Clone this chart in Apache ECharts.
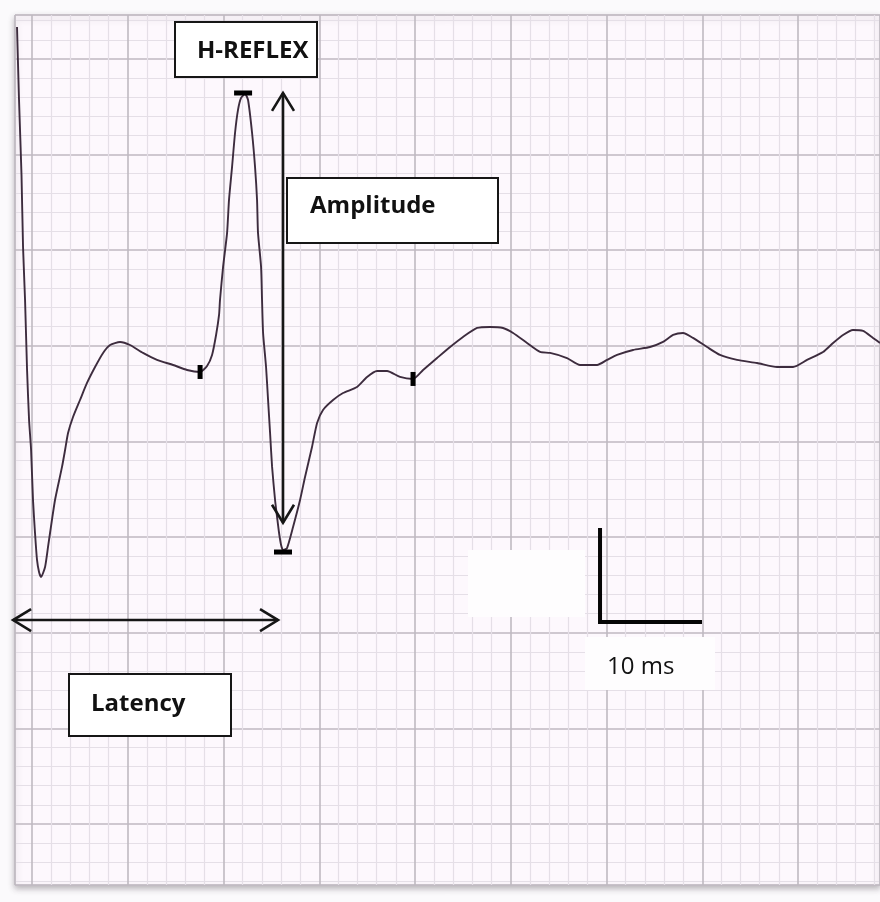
<!DOCTYPE html>
<html>
<head>
<meta charset="utf-8">
<script src="https://cdn.jsdelivr.net/npm/echarts@6/dist/echarts.min.js"></script>
<style>
html,body{margin:0;padding:0;background:#fbfafc;}
#main{width:880px;height:902px;}
</style>
</head>
<body>
<div id="main"></div>
<script>
// ---- data (time in ms, amplitude in grid units: 10 per major division) ----
const timeMs = [
  -1.57,-1.36,-1.10,-0.94,-0.73,-0.52,-0.31,-0.10,0.10,0.31,0.52,0.73,0.94,1.36,1.67,1.88,2.40,3.13,3.45,3.76,
  4.28,5.01,5.74,6.58,7.42,8.15,9.19,10.23,11.59,13.05,14.73,16.19,17.55,18.28,18.80,19.22,19.53,19.63,19.95,20.37,
  20.57,20.89,21.20,21.51,21.83,22.25,22.56,22.98,23.29,23.50,23.60,23.92,24.02,24.13,24.44,24.65,24.86,25.07,25.38,25.59,
  25.80,26.01,26.21,26.63,27.26,27.99,28.51,29.24,29.77,30.39,31.44,32.48,33.94,34.99,36.03,37.08,38.43,39.79,40.84,42.30,
  43.66,45.01,46.48,47.83,49.19,50.24,51.70,53.06,54.10,55.87,57.23,59.01,60.05,61.10,62.77,64.54,65.90,66.95,67.99,69.03,
  70.50,71.85,73.63,75.72,77.81,79.48,80.94,82.61,83.66,84.70,85.74,86.79,87.83,88.56
];
const amplitude = [
  83.35,75.71,67.87,60.34,54.80,47.48,42.25,39.11,33.88,30.43,27.61,26.35,25.83,26.88,28.97,30.43,33.88,37.34,39.11,40.89,
  42.56,44.34,46.12,47.79,49.26,50.09,50.41,50.09,49.26,48.53,48.00,47.48,47.27,47.90,49.05,51.14,53.23,54.80,58.25,61.81,
  65.26,68.71,72.26,74.67,75.93,76.34,75.71,72.26,68.71,65.26,61.81,58.25,54.80,51.35,47.79,44.34,40.89,37.34,33.88,32.11,
  30.43,29.18,28.65,28.86,31.06,33.88,36.29,39.43,41.94,43.30,44.34,45.07,45.70,46.75,47.37,47.37,46.75,46.54,47.48,48.73,
  49.88,50.93,51.87,51.98,51.87,51.35,50.30,49.36,49.26,48.73,48.00,48.00,48.53,49.05,49.57,49.88,50.41,51.14,51.35,50.83,
  49.88,49.05,48.53,48.21,47.79,47.79,48.53,49.36,50.30,51.14,51.66,51.56,50.83,50.30
];
// indices of the cursor markers on the trace
const markerIndex = [32, 45, 62, 77];
const markerKind = ['v', 'h', 'h', 'v'];

// annotations in data coordinates
const amplitudeArrow = [[26.21, 76.45], [26.21, 31.50]];
const latencyArrow = [[-1.98, 21.33], [25.69, 21.33]];
const scaleBar = [[59.32, 30.95], [59.32, 21.12], [69.97, 21.12]];
const labels = ['H-REFLEX', 'Amplitude', 'Latency', '10 ms'];

const seriesData = timeMs.map((t, i) => [t, amplitude[i]]);

const chart = echarts.init(document.getElementById('main'));
const option = {
  animation: false,
  backgroundColor: '#fbfafc',
  grid: {
    left: 15, top: 15, right: 0, bottom: 17,
    show: true,
    backgroundColor: '#fdf8fd',
    borderColor: '#cdc7cf',
    borderWidth: 1,
    shadowBlur: 6,
    shadowColor: 'rgba(60,50,60,0.35)',
    shadowOffsetX: 0,
    shadowOffsetY: 3
  },
  xAxis: {
    type: 'value', min: -1.78, max: 88.56,
    splitNumber: 9, minInterval: 10, maxInterval: 10,
    axisLine: {show: false}, axisTick: {show: false}, axisLabel: {show: false},
    splitLine: {show: true, lineStyle: {color: '#bfb9c1', width: 1.6}},
    minorTick: {show: false, splitNumber: 5},
    minorSplitLine: {show: true, lineStyle: {color: '#e5dfe7', width: 1.2}}
  },
  yAxis: {
    type: 'value', min: -6.38, max: 84.60,
    splitNumber: 9, minInterval: 10, maxInterval: 10,
    axisLine: {show: false}, axisTick: {show: false}, axisLabel: {show: false},
    splitLine: {show: true, lineStyle: {color: '#bfb9c1', width: 1.6}},
    minorTick: {show: false, splitNumber: 5},
    minorSplitLine: {show: true, lineStyle: {color: '#e5dfe7', width: 1.2}}
  },
  series: [{
    type: 'line',
    data: seriesData,
    showSymbol: false,
    smooth: 0.2,
    lineStyle: {color: '#3d2c3e', width: 1.9},
    z: 3,
    markPoint: {
      silent: true,
      label: {show: false},
      itemStyle: {color: '#000'},
      data: markerIndex.map((idx, k) => ({
        coord: seriesData[idx],
        symbol: 'rect',
        symbolSize: markerKind[k] === 'v' ? [5, 14] : [18, 5],
        symbolOffset: markerKind[k] === 'v' ? [0, 0] : (k === 1 ? [-2, -1] : [0, 2])
      }))
    }
  }]
};
chart.setOption(option);

const P = p => chart.convertToPixel({gridIndex: 0}, p);
const ink = '#161616';
const els = [];

// white patches
els.push({type: 'rect', z: 1, shape: {x: 468, y: 550, width: 117, height: 67}, style: {fill: '#fefdfe'}});
els.push({type: 'rect', z: 1, shape: {x: 585, y: 637, width: 130, height: 53}, style: {fill: '#fefdfe'}});

// text boxes
const boxes = [
  {x: 175, y: 22, w: 142, h: 55, tx: 197, ty: 51.5, bold: true},
  {x: 287, y: 178, w: 211, h: 65, tx: 310, ty: 206.5, bold: true},
  {x: 69, y: 674, w: 162, h: 62, tx: 91, ty: 704, bold: true},
  {x: null, tx: 607, ty: 667.5, bold: false}
];
boxes.forEach((b, i) => {
  if (b.x !== null) {
    els.push({type: 'rect', z: 10, shape: {x: b.x, y: b.y, width: b.w, height: b.h},
      style: {fill: '#ffffff', stroke: ink, lineWidth: 2}});
  }
  els.push({type: 'text', z: 11, x: b.tx, y: b.ty,
    style: {text: labels[i], fill: '#111', fontFamily: 'Open Sans', fontSize: 24,
      fontWeight: b.bold ? 'bold' : 'normal', align: 'left', verticalAlign: 'middle'}});
});

// double-headed arrows
function arrow(a, b) {
  const pa = P(a), pb = P(b);
  const dx = pb[0] - pa[0], dy = pb[1] - pa[1];
  const L = Math.hypot(dx, dy), ux = dx / L, uy = dy / L;
  const back = 18, side = 11;
  const head = (tip, s) => [
    [tip[0] + s * ux * back - uy * side, tip[1] + s * uy * back + ux * side],
    tip,
    [tip[0] + s * ux * back + uy * side, tip[1] + s * uy * back - ux * side]
  ];
  els.push({type: 'line', z: 12, shape: {x1: pa[0], y1: pa[1], x2: pb[0], y2: pb[1]}, style: {stroke: ink, lineWidth: 2.6}});
  els.push({type: 'polyline', z: 12, shape: {points: head(pa, 1)}, style: {stroke: ink, lineWidth: 2.6, fill: null}});
  els.push({type: 'polyline', z: 12, shape: {points: head(pb, -1)}, style: {stroke: ink, lineWidth: 2.6, fill: null}});
}
arrow(amplitudeArrow[0], amplitudeArrow[1]);
arrow(latencyArrow[0], latencyArrow[1]);

// scale bar
els.push({type: 'polyline', z: 12, shape: {points: scaleBar.map(P)},
  style: {stroke: '#050505', lineWidth: 4, fill: null, lineJoin: 'miter'}});

chart.setOption({graphic: {elements: els}});
</script>
</body>
</html>
